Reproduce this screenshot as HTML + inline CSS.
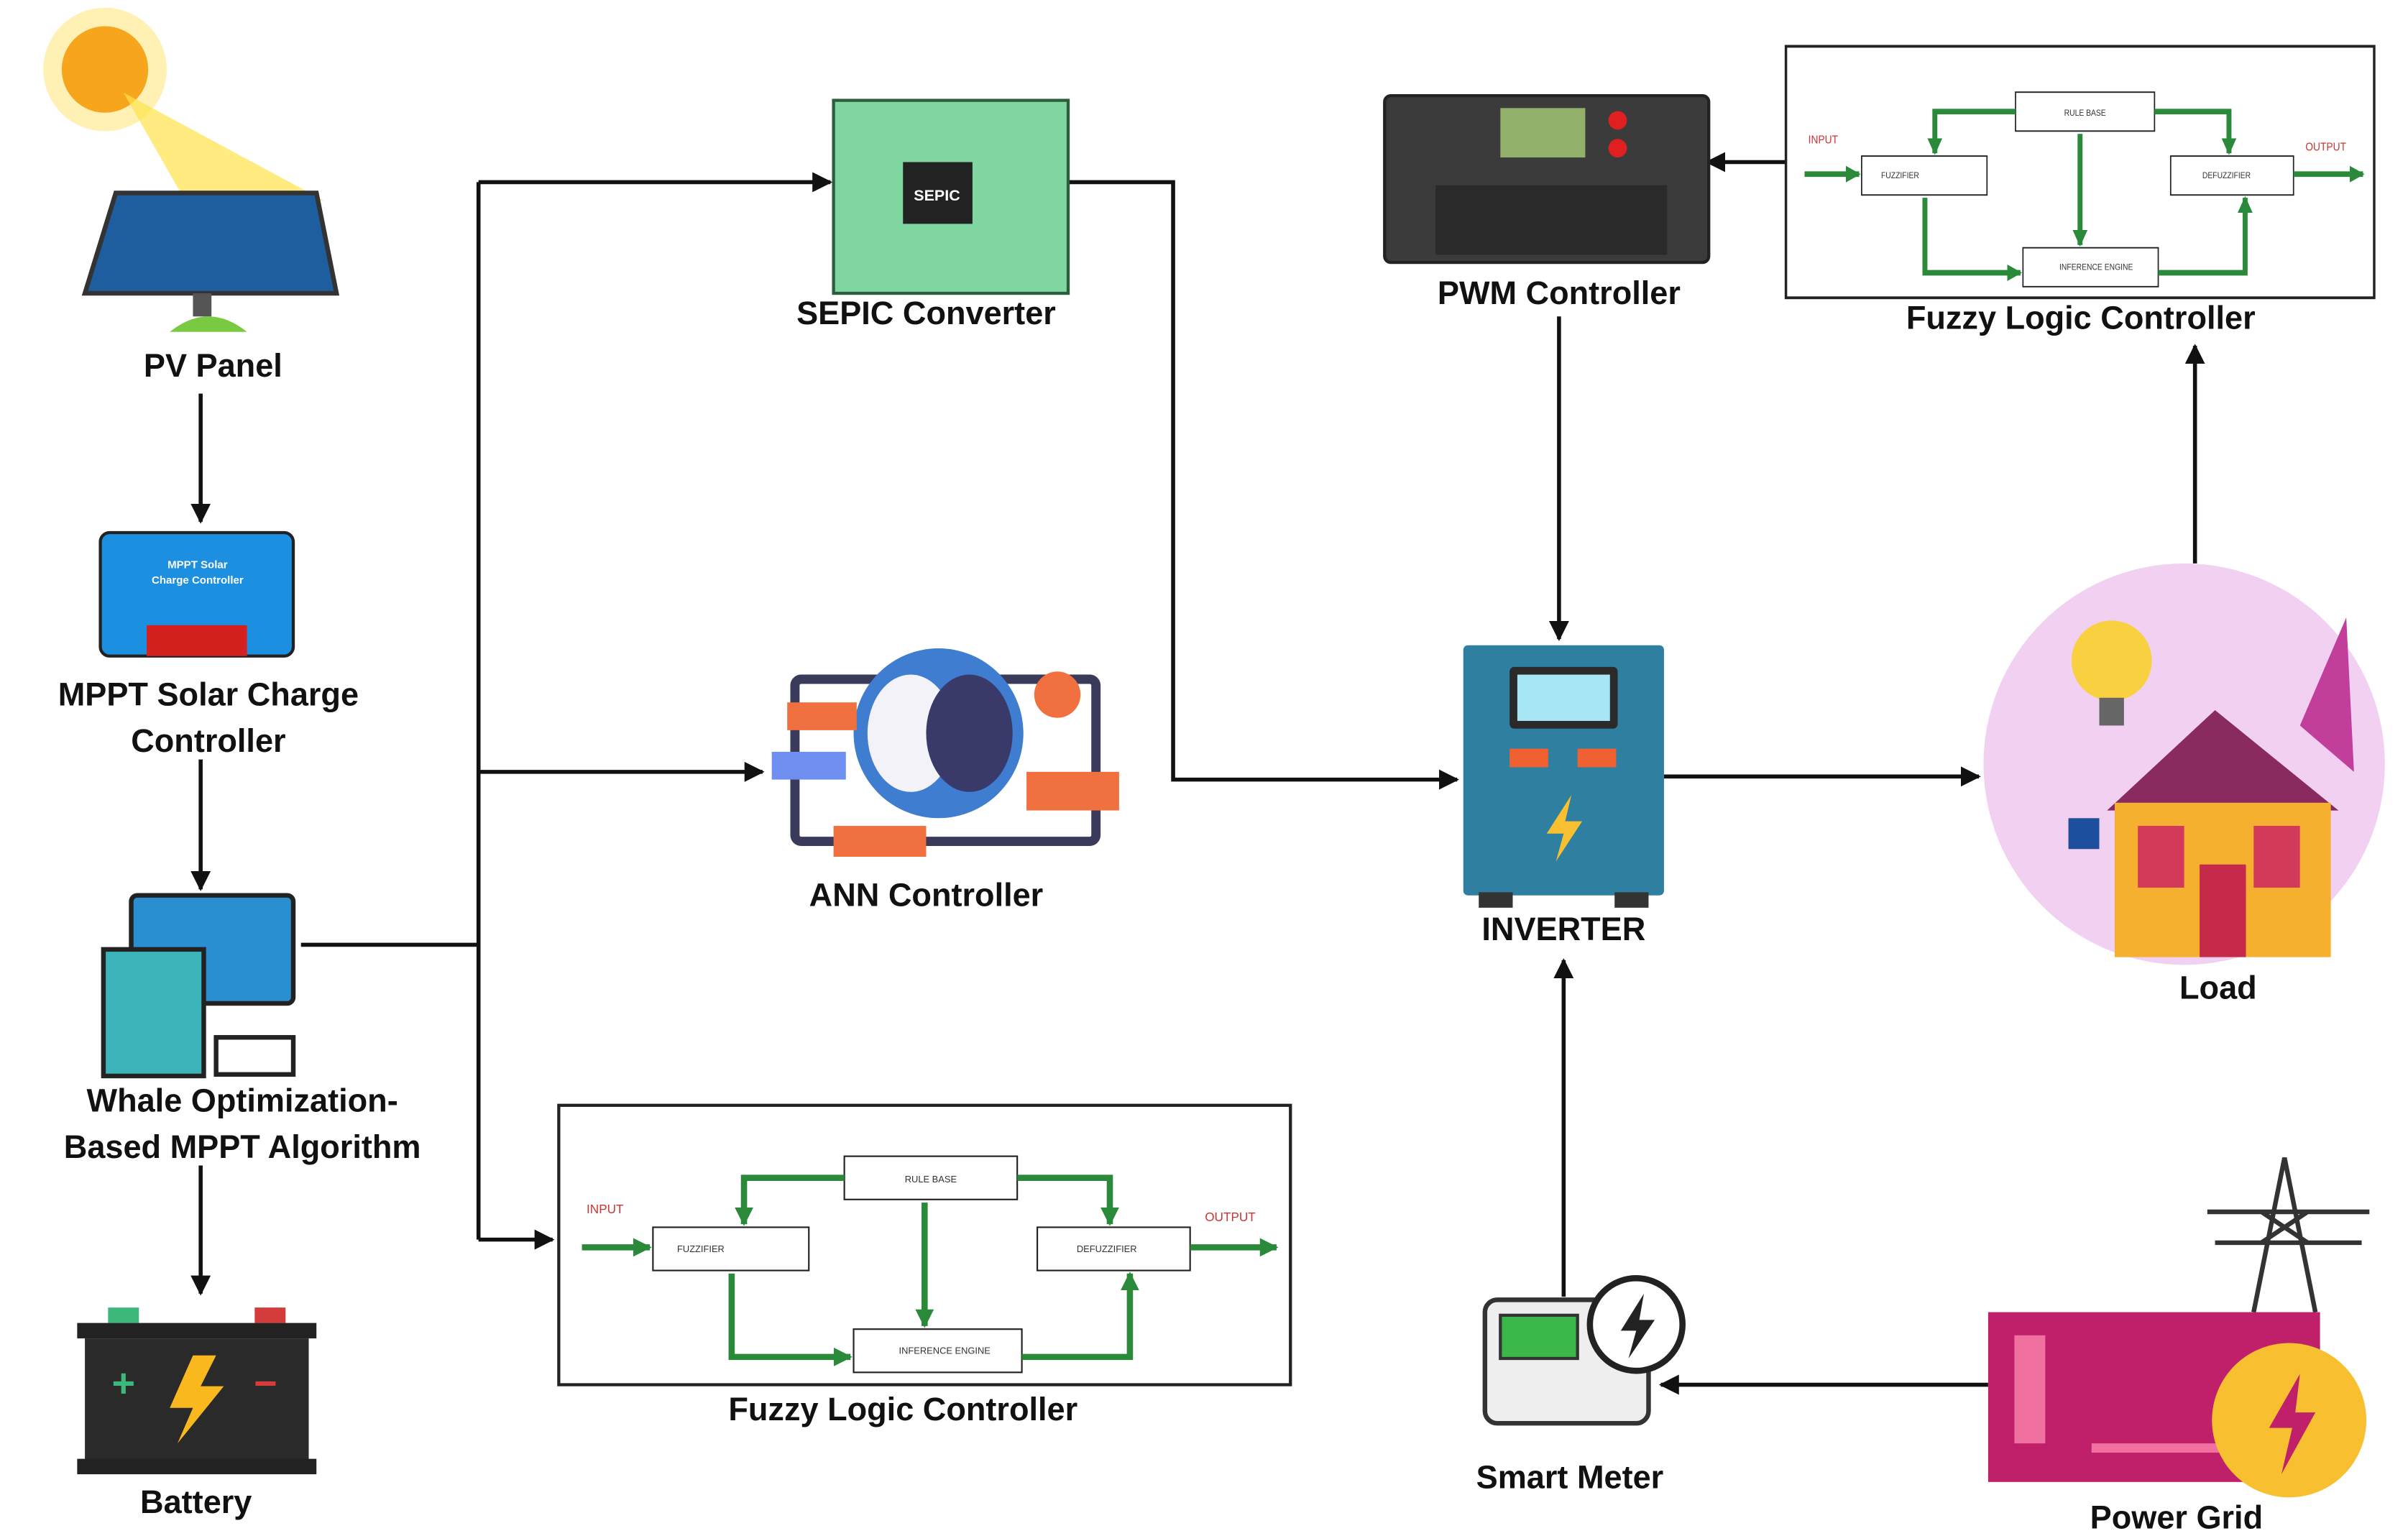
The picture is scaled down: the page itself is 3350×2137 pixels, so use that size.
<!DOCTYPE html>
<html><head><meta charset="utf-8"><style>
html,body{margin:0;padding:0;background:#fff}
svg{display:block}
text{font-family:"Liberation Sans",sans-serif}
.lb{font-weight:bold;font-size:21px;fill:#111;text-anchor:middle}
.ln{stroke:#111;stroke-width:2.6;fill:none}
.g{stroke:#2a8a3a;stroke-width:4;fill:none}
.bx{fill:#fff;stroke:#222;stroke-width:1}
.t{font-size:6px;fill:#333;text-anchor:middle}
</style></head><body>
<svg width="3350" height="2137" viewBox="0 0 1560 995" preserveAspectRatio="none" xmlns="http://www.w3.org/2000/svg">
<defs>
<marker id="a" viewBox="0 0 10 10" refX="9" refY="5" markerWidth="5" markerHeight="5" orient="auto"><path d="M0,0L10,5L0,10z" fill="#111"/></marker>
<marker id="ga" viewBox="0 0 10 10" refX="9" refY="5" markerWidth="3" markerHeight="3" orient="auto"><path d="M0,0L10,5L0,10z" fill="#2a8a3a"/></marker>
<g id="fz">
<rect x="0" y="0" width="474" height="181" fill="#fff" stroke="#222" stroke-width="2"/>
<text x="30" y="70" font-size="8" fill="#c33" text-anchor="middle">INPUT</text>
<text x="435" y="75" font-size="8" fill="#c33" text-anchor="middle">OUTPUT</text>
<rect class="bx" x="185" y="33" width="112" height="28"/><text class="t" x="241" y="50">RULE BASE</text>
<rect class="bx" x="61" y="79" width="101" height="28"/><text class="t" x="92" y="95">FUZZIFIER</text>
<rect class="bx" x="310" y="79" width="99" height="28"/><text class="t" x="355" y="95">DEFUZZIFIER</text>
<rect class="bx" x="191" y="145" width="109" height="28"/><text class="t" x="250" y="161">INFERENCE ENGINE</text>
<path class="g" d="M15,92H59" marker-end="url(#ga)"/>
<path class="g" d="M185,47H120V77" marker-end="url(#ga)"/>
<path class="g" d="M297,47H357V77" marker-end="url(#ga)"/>
<path class="g" d="M237,63V143" stroke-width="2.5" marker-end="url(#ga)"/>
<path class="g" d="M112,109V163H189" marker-end="url(#ga)"/>
<path class="g" d="M300,163H370V109" marker-end="url(#ga)"/>
<path class="g" d="M409,92H465" marker-end="url(#ga)"/>
</g>
</defs>

<!-- connectors -->
<path class="ln" d="M130,255V338" marker-end="url(#a)"/>
<path class="ln" d="M130,492V576" marker-end="url(#a)"/>
<path class="ln" d="M130,755V838" marker-end="url(#a)"/>
<path class="ln" d="M195,612H310"/>
<path class="ln" d="M310,118V803"/>
<path class="ln" d="M310,118H538" marker-end="url(#a)"/>
<path class="ln" d="M310,500H494" marker-end="url(#a)"/>
<path class="ln" d="M310,803H358" marker-end="url(#a)"/>
<path class="ln" d="M692,118H760V505H944" marker-end="url(#a)"/>
<path class="ln" d="M1157,105H1106" marker-end="url(#a)"/>
<path class="ln" d="M1010,205V414" marker-end="url(#a)"/>
<path class="ln" d="M1078,503H1282" marker-end="url(#a)"/>
<path class="ln" d="M1422,365V224" marker-end="url(#a)"/>
<path class="ln" d="M1013,840V622" marker-end="url(#a)"/>
<path class="ln" d="M1288,897H1076" marker-end="url(#a)"/>

<!-- PV panel -->
<circle cx="68" cy="45" r="40" fill="#ffe680" opacity="0.6"/>
<circle cx="68" cy="45" r="28" fill="#f7a51c"/>
<polygon points="80,60 210,130 120,130" fill="#ffe24a" opacity="0.7"/>
<polygon points="75,125 205,125 218,190 55,190" fill="#1e5d9e" stroke="#333" stroke-width="3"/>
<rect x="125" y="190" width="12" height="15" fill="#555"/>
<path d="M110,215 Q135,195 160,215" fill="#7ac943"/>
<text class="lb" x="138" y="244">PV Panel</text>

<!-- MPPT -->
<rect x="65" y="345" width="125" height="80" rx="6" fill="#1d8fe0" stroke="#222" stroke-width="2"/>
<rect x="95" y="405" width="65" height="20" fill="#d52020"/>
<text x="128" y="368" font-size="7" fill="#fff" text-anchor="middle" font-weight="bold">MPPT Solar</text>
<text x="128" y="378" font-size="7" fill="#fff" text-anchor="middle" font-weight="bold">Charge Controller</text>
<text class="lb" x="135" y="457">MPPT Solar Charge</text>
<text class="lb" x="135" y="487">Controller</text>

<!-- Whale -->
<rect x="85" y="580" width="105" height="70" rx="4" fill="#2a8fd0" stroke="#222" stroke-width="3"/>
<rect x="140" y="672" width="50" height="24" fill="#fff" stroke="#222" stroke-width="3"/>
<rect x="67" y="615" width="65" height="82" fill="#3bb3b8" stroke="#222" stroke-width="3"/>
<text class="lb" x="157" y="720">Whale Optimization-</text>
<text class="lb" x="157" y="750">Based MPPT Algorithm</text>

<!-- Battery -->
<rect x="70" y="847" width="20" height="10" fill="#3cb87a"/>
<rect x="165" y="847" width="20" height="10" fill="#d43b3b"/>
<rect x="50" y="857" width="155" height="10" fill="#222"/>
<rect x="55" y="867" width="145" height="80" fill="#2a2a2a"/>
<rect x="50" y="945" width="155" height="10" fill="#222"/>
<polygon points="125,878 110,912 125,912 115,935 145,898 130,898 140,878" fill="#f8b81e"/>
<text x="80" y="905" font-size="26" fill="#3cb87a" font-weight="bold" text-anchor="middle">+</text>
<text x="172" y="905" font-size="26" fill="#d43b3b" font-weight="bold" text-anchor="middle">−</text>
<text class="lb" x="127" y="980">Battery</text>

<!-- SEPIC -->
<rect x="540" y="65" width="152" height="125" fill="#7fd6a0" stroke="#2c5e3e" stroke-width="2"/>
<rect x="585" y="105" width="45" height="40" fill="#222"/>
<text x="607" y="130" font-size="10" fill="#fff" font-weight="bold" text-anchor="middle">SEPIC</text>
<text class="lb" x="600" y="210">SEPIC Converter</text>

<!-- ANN -->
<rect x="515" y="440" width="195" height="105" rx="4" fill="none" stroke="#3a3a5a" stroke-width="6"/>
<circle cx="608" cy="475" r="55" fill="#3f7dd0"/>
<ellipse cx="590" cy="475" rx="28" ry="38" fill="#f2f2f8"/>
<ellipse cx="628" cy="475" rx="28" ry="38" fill="#3a3a6a"/>
<rect x="510" y="455" width="45" height="18" fill="#f07040"/>
<rect x="500" y="487" width="48" height="18" fill="#6f8ff0"/>
<rect x="665" y="500" width="60" height="25" fill="#f07040"/>
<rect x="540" y="535" width="60" height="20" fill="#f07040"/>
<circle cx="685" cy="450" r="15" fill="#f07040"/>
<text class="lb" x="600" y="587">ANN Controller</text>

<!-- Fuzzy bottom -->
<use href="#fz" transform="translate(362,716)"/>
<text class="lb" x="585" y="920">Fuzzy Logic Controller</text>

<!-- PWM -->
<rect x="897" y="62" width="210" height="108" rx="4" fill="#3b3b3b" stroke="#222" stroke-width="2"/>
<rect x="972" y="70" width="55" height="32" fill="#93b06a"/>
<circle cx="1048" cy="78" r="6" fill="#e02020"/><circle cx="1048" cy="96" r="6" fill="#e02020"/>
<rect x="930" y="120" width="150" height="45" fill="#2a2a2a"/>
<text class="lb" x="1010" y="197">PWM Controller</text>

<!-- Fuzzy top -->
<use href="#fz" transform="translate(1157,30) scale(0.804,0.9)"/>
<text class="lb" x="1348" y="213">Fuzzy Logic Controller</text>

<!-- Inverter -->
<rect x="948" y="418" width="130" height="162" rx="3" fill="#2e7fa0"/>
<rect x="978" y="432" width="70" height="40" rx="3" fill="#2a2a2a"/>
<rect x="983" y="437" width="60" height="30" fill="#a7e6f5"/>
<rect x="978" y="485" width="25" height="12" fill="#f06030"/><rect x="1022" y="485" width="25" height="12" fill="#f06030"/>
<polygon points="1018,515 1002,540 1013,540 1008,558 1025,532 1014,532" fill="#f8c030"/>
<rect x="958" y="578" width="22" height="10" fill="#333"/><rect x="1046" y="578" width="22" height="10" fill="#333"/>
<text class="lb" x="1013" y="609">INVERTER</text>

<!-- Load -->
<circle cx="1415" cy="495" r="130" fill="#f2d0f2"/>
<polygon points="1365,525 1435,460 1515,525" fill="#8a2b60"/>
<rect x="1370" y="520" width="140" height="100" fill="#f5b030"/>
<rect x="1385" y="535" width="30" height="40" fill="#d33a5a"/>
<rect x="1460" y="535" width="30" height="40" fill="#d33a5a"/>
<rect x="1425" y="560" width="30" height="60" fill="#c52a4a"/>
<polygon points="1490,470 1520,400 1525,500" fill="#c13e9a"/>
<circle cx="1368" cy="428" r="26" fill="#f8d040"/>
<rect x="1360" y="452" width="16" height="18" fill="#666"/>
<rect x="1340" y="530" width="20" height="20" fill="#1e4f9e"/>
<text class="lb" x="1437" y="647">Load</text>

<!-- Smart meter -->
<rect x="962" y="842" width="106" height="80" rx="8" fill="#eee" stroke="#333" stroke-width="3"/>
<rect x="972" y="852" width="50" height="28" fill="#3cb84a" stroke="#333" stroke-width="2"/>
<circle cx="1060" cy="858" r="30" fill="#fff" stroke="#222" stroke-width="4"/>
<polygon points="1065,838 1050,862 1060,862 1055,880 1072,855 1062,855" fill="#222"/>
<text class="lb" x="1017" y="964">Smart Meter</text>

<!-- Power grid -->
<path d="M1460,850 L1480,750 L1500,850 M1430,785 H1535 M1435,805 H1530 M1465,785 L1495,805 M1495,785 L1465,805" stroke="#333" stroke-width="3" fill="none"/>
<rect x="1288" y="850" width="215" height="110" fill="#c0206a"/>
<rect x="1305" y="865" width="20" height="70" fill="#f070a0"/>
<rect x="1355" y="935" width="100" height="6" fill="#f070a0"/>
<circle cx="1483" cy="920" r="50" fill="#f8c030"/>
<polygon points="1490,890 1470,925 1485,925 1478,955 1500,915 1487,915" fill="#c0206a"/>
<text class="lb" x="1410" y="990">Power Grid</text>
</svg>
</body></html>
